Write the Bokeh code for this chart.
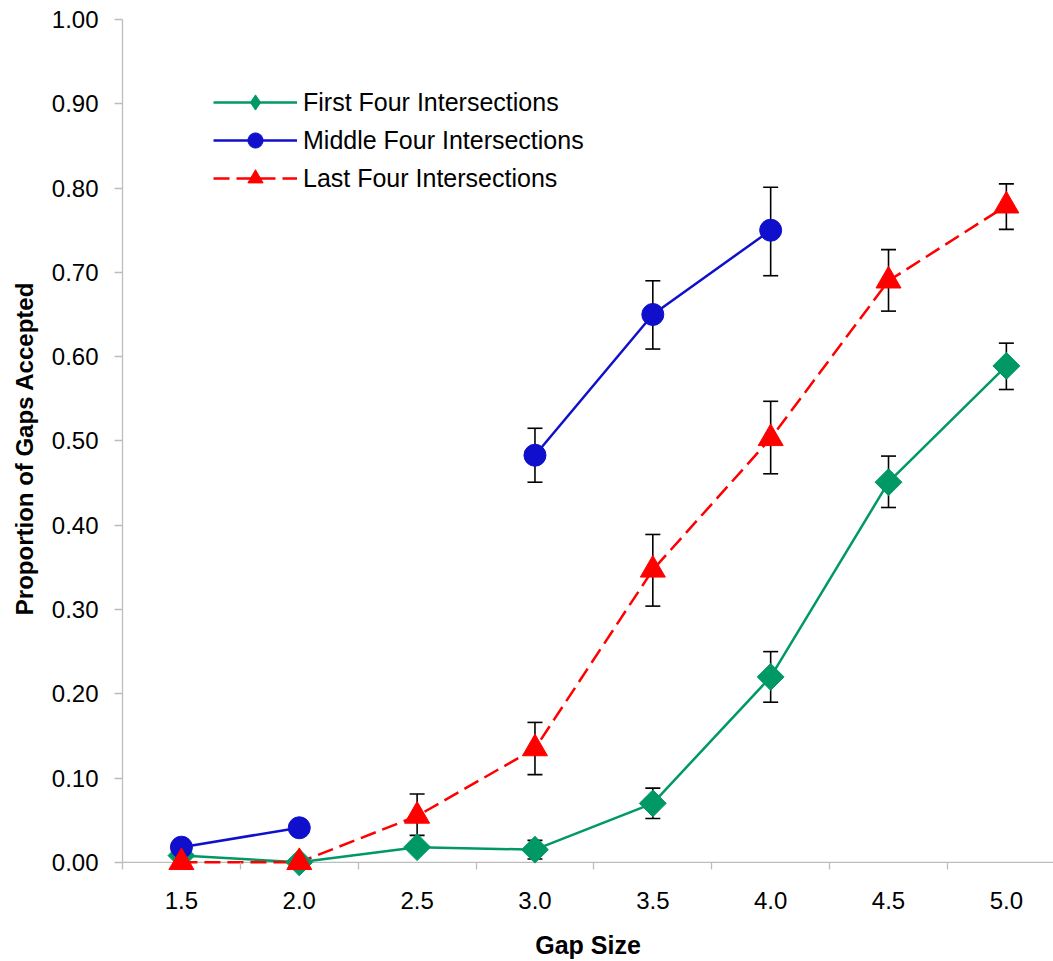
import math
from bokeh.plotting import figure
from bokeh.models import (ColumnDataSource, Range1d, FixedTicker, NumeralTickFormatter,
                          Whisker, TeeHead, Span)
from bokeh.embed import file_html
from bokeh.resources import INLINE

# ---------------- data ----------------
gap_sizes = [1.5, 2.0, 2.5, 3.0, 3.5, 4.0, 4.5, 5.0]
y_ticks = [0.0, 0.1, 0.2, 0.3, 0.4, 0.5, 0.6, 0.7, 0.8, 0.9, 1.0]

first_four = [0.008, 0.000, 0.018, 0.015, 0.070, 0.220, 0.451, 0.589]
first_low = [None, None, None, 0.004, 0.052, 0.190, 0.421, 0.561]
first_high = [None, None, None, 0.026, 0.088, 0.250, 0.482, 0.616]

middle_four = [0.018, 0.041, None, 0.483, 0.650, 0.750, None, None]
middle_low = [None, None, None, 0.451, 0.609, 0.696, None, None]
middle_high = [None, None, None, 0.515, 0.690, 0.801, None, None]

last_four = [0.000, 0.000, 0.055, 0.135, 0.347, 0.503, 0.690, 0.779]
last_low = [None, None, 0.032, 0.104, 0.304, 0.461, 0.654, 0.751]
last_high = [None, None, 0.081, 0.166, 0.389, 0.547, 0.727, 0.805]

series_names = ["First Four Intersections", "Middle Four Intersections", "Last Four Intersections"]
colors = ["#009966", "#1010CC", "#FF0000"]
x_title = "Gap Size"
y_title = "Proportion of Gaps Accepted"

FONT = "Liberation Sans"

half_step = (gap_sizes[1] - gap_sizes[0]) / 2
x_start = gap_sizes[0] - half_step
y_min, y_max = y_ticks[0], y_ticks[-1]

# frame extends a little below zero so that the markers sitting on zero are not clipped
p = figure(width=1053, height=961,
           x_range=Range1d(x_start, 5.200), y_range=Range1d(-0.018, y_max),
           output_backend="svg", toolbar_location=None,
           min_border_left=122, min_border_right=0, min_border_top=19, min_border_bottom=84)
p.outline_line_color = None
p.xgrid.visible = False
p.ygrid.visible = False
p.background_fill_color = "white"
p.border_fill_color = "white"

axis_gray = "#bdbdbd"

# x-axis line drawn at zero
p.add_layout(Span(location=y_min, dimension="width", line_color=axis_gray,
                  line_width=1.3, level="underlay"))


def nan(v):
    return float("nan") if v is None else v


def add_whiskers(lows, highs):
    xs = [g for g, lo in zip(gap_sizes, lows) if lo is not None]
    lo_ = [lo for lo in lows if lo is not None]
    hi_ = [hi for hi in highs if hi is not None]
    src = ColumnDataSource(dict(x=xs, lower=lo_, upper=hi_))
    w = Whisker(source=src, base="x", lower="lower", upper="upper",
                line_color="black", line_width=1.6,
                upper_head=TeeHead(size=15, line_color="black", line_width=1.6),
                lower_head=TeeHead(size=15, line_color="black", line_width=1.6))
    p.add_layout(w)


add_whiskers(first_low, first_high)
add_whiskers(middle_low, middle_high)
add_whiskers(last_low, last_high)

src1 = ColumnDataSource(dict(x=gap_sizes, y=[nan(v) for v in first_four]))
src2 = ColumnDataSource(dict(x=gap_sizes, y=[nan(v) for v in middle_four]))
src3 = ColumnDataSource(dict(x=gap_sizes, y=[nan(v) for v in last_four]))

# lines
p.line("x", "y", source=src1, line_color=colors[0], line_width=2.5, legend_label=series_names[0])
p.line("x", "y", source=src2, line_color=colors[1], line_width=2.5, legend_label=series_names[1])
p.line("x", "y", source=src3, line_color=colors[2], line_width=2.5, line_dash="16 7",
       legend_label=series_names[2])

# markers
p.scatter("x", "y", source=src1, marker="square", angle=math.pi / 4, size=19,
          fill_color=colors[0], line_color=colors[0], level="overlay")
# legend proxy for the diamond (legend glyphs are never rotated)
p.scatter("x", "y", source=src1, marker="diamond", size=0,
          fill_color=colors[0], line_color=colors[0], legend_label=series_names[0])
p.scatter("x", "y", source=src2, marker="circle", size=22,
          fill_color=colors[1], line_color=colors[1], legend_label=series_names[1], level="overlay")
p.scatter("x", "y", source=src3, marker="triangle", size=25,
          fill_color=colors[2], line_color=colors[2], legend_label=series_names[2], level="overlay")

# ---------------- axes ----------------
xa = p.xaxis[0]
xa.ticker = FixedTicker(ticks=gap_sizes,
                        minor_ticks=[g - half_step for g in gap_sizes] + [gap_sizes[-1] + half_step])
xa.formatter = NumeralTickFormatter(format="0.0")
xa.axis_line_color = None
xa.major_tick_line_color = None
xa.major_tick_out = 0
xa.major_tick_in = 0
# boundary ticks: from the zero line down 7px (axis itself sits at the frame bottom)
xa.minor_tick_line_color = axis_gray
xa.minor_tick_line_width = 1.3
xa.minor_tick_in = 15
xa.minor_tick_out = -8
xa.major_label_standoff = 14
xa.major_label_text_font = FONT
xa.major_label_text_font_size = "24px"
xa.major_label_text_color = "black"
xa.axis_label = x_title
xa.axis_label_text_font = FONT
xa.axis_label_text_font_size = "25px"
xa.axis_label_text_font_style = "bold"
xa.axis_label_text_color = "black"
xa.axis_label_standoff = 19

ya = p.yaxis[0]
ya.bounds = (y_min, y_max)
ya.ticker = FixedTicker(ticks=y_ticks)
ya.formatter = NumeralTickFormatter(format="0.00")
ya.axis_line_color = axis_gray
ya.axis_line_width = 1.3
ya.major_tick_line_color = axis_gray
ya.major_tick_line_width = 1.3
ya.major_tick_out = 8
ya.major_tick_in = 0
ya.minor_tick_line_color = None
ya.major_label_standoff = 16
ya.major_label_text_font = FONT
ya.major_label_text_font_size = "24px"
ya.major_label_text_color = "black"
ya.axis_label = y_title
ya.axis_label_text_font = FONT
ya.axis_label_text_font_size = "24px"
ya.axis_label_text_font_style = "bold"
ya.axis_label_text_color = "black"
ya.axis_label_standoff = 11

# ---------------- legend ----------------
lg = p.legend[0]
lg.location = (91, 680)
lg.glyph_width = 84
lg.glyph_height = 38
lg.spacing = 0
lg.padding = 0
lg.margin = 0
lg.label_standoff = 6
lg.label_height = 26
lg.border_line_color = None
lg.background_fill_alpha = 0
lg.label_text_font = FONT
lg.label_text_font_size = "25px"
lg.label_text_color = "black"

open("out.html", "w").write(file_html(p, INLINE))
